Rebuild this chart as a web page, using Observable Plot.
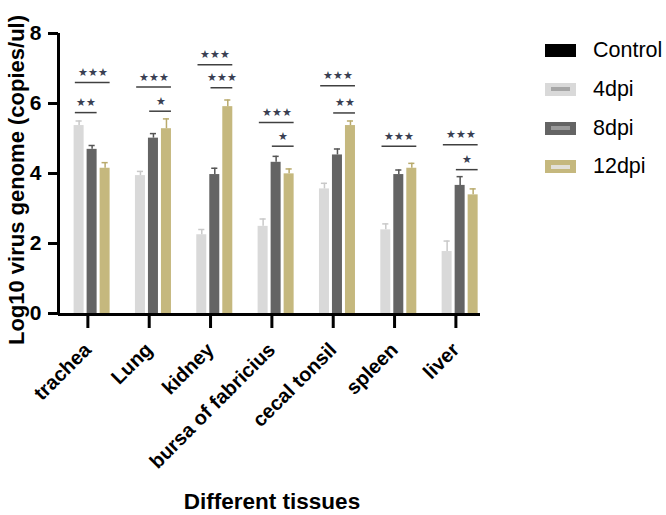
<!DOCTYPE html>
<html><head><meta charset="utf-8">
<script src="https://cdn.jsdelivr.net/npm/d3@7"></script>
<script src="https://cdn.jsdelivr.net/npm/@observablehq/plot@0.6"></script>
<style>
body{margin:0;background:#fff;font-family:"Liberation Sans",Arial,sans-serif;}
#wrap{position:relative;width:666px;height:515px;overflow:hidden;}
#chart{position:absolute;left:0;top:0;}
#ytitle{position:absolute;left:17px;top:180px;transform:translate(-50%,-50%) rotate(-90deg);white-space:nowrap;font-weight:bold;font-size:22px;color:#000;}
#xtitle{position:absolute;left:272px;top:491px;transform:translateX(-50%);white-space:nowrap;font-weight:bold;font-size:22.5px;line-height:22px;color:#000;}
#legend{position:absolute;left:545px;top:0;}
.row{position:absolute;left:0;height:14px;width:120px;}
.sw{position:absolute;left:0;top:0;width:31px;height:13px;}
.in{position:absolute;left:6px;top:4.5px;width:19px;height:4px;}
.lab{position:absolute;left:48px;top:-6px;font-size:21.5px;line-height:24px;color:#000;white-space:nowrap;}
</style></head>
<body>
<div id="wrap">
<div id="chart"></div>
<div id="ytitle">Log10 virus genome (copies/ul)</div>
<div id="xtitle">Different tissues</div>
<div id="legend"></div>
</div>
<script>
const tissues = ["trachea","Lung","kidney","bursa of fabricius","cecal tonsil","spleen","liver"];
const series = ["Control","4dpi","8dpi","12dpi"];
const control = [0,0,0,0,0,0,0];
const controlErr = [0,0,0,0,0,0,0];
const dpi4 = [5.37,3.94,2.25,2.49,3.56,2.39,1.77];
const dpi4Err = [0.13,0.12,0.15,0.21,0.16,0.17,0.30];
const dpi8 = [4.69,5.01,3.97,4.32,4.53,3.97,3.66];
const dpi8Err = [0.11,0.13,0.18,0.17,0.17,0.13,0.25];
const dpi12 = [4.15,5.28,5.91,3.99,5.37,4.15,3.39];
const dpi12Err = [0.16,0.28,0.19,0.14,0.13,0.14,0.17];
const yTicks = [0,2,4,6,8];

// significance brackets
const sigTissue = ["trachea","trachea","Lung","Lung","kidney","kidney","bursa of fabricius","bursa of fabricius","cecal tonsil","cecal tonsil","spleen","liver","liver"];
const sigFrom =   ["4dpi","4dpi","4dpi","8dpi","4dpi","8dpi","4dpi","8dpi","4dpi","8dpi","4dpi","4dpi","8dpi"];
const sigTo =     ["12dpi","8dpi","12dpi","12dpi","12dpi","12dpi","12dpi","12dpi","12dpi","12dpi","12dpi","12dpi","12dpi"];
const sigY =      [6.6,5.74,6.47,5.78,7.11,6.45,5.46,4.78,6.51,5.73,4.78,4.82,4.11];
const sigLabel =  ["***","**","***","*","***","***","***","*","***","**","***","***","*"];

const colors = ["#000000","#d9d9d9","#646464","#c5b87e"];
const capColors = ["#000000","#c9c9c9","#555555","#b9aa6c"];
const innerColors = ["#000000","#a6a6a6","#9a9a9a","#e2e0d8"];

const values = [control, dpi4, dpi8, dpi12];
const errs = [controlErr, dpi4Err, dpi8Err, dpi12Err];

// layout within a group (in x data units: one unit = one tissue)
const step = 0.212, half = 0.0816;
const off = s => (series.indexOf(s) - 1.5) * step + 0.012;
const xMin = -0.43, xMax = 6.45;

const bars = [];
series.forEach((s, j) => tissues.forEach((t, i) => {
  bars.push({tissue: t, i, series: s, value: values[j][i], err: errs[j][i], cap: capColors[j]});
}));
const shown = bars.filter(d => d.value > 0);
const sigs = sigTissue.map((t, k) => ({i: tissues.indexOf(t), from: sigFrom[k], to: sigTo[k], y: sigY[k], label: sigLabel[k]}));

const starText = l => l.replace(/\*/g, "\u2605");

const chart = Plot.plot({
  width: 666, height: 515,
  marginLeft: 58, marginRight: 186, marginTop: 33, marginBottom: 202,
  style: {fontFamily: "'Liberation Sans', Arial, sans-serif", background: "#fff", color: "#000"},
  x: {domain: [xMin, xMax], axis: null},
  y: {domain: [0, 8], axis: null},
  color: {domain: series, range: colors},
  marks: [
    Plot.rectY(shown, {x1: d => d.i + off(d.series) - half, x2: d => d.i + off(d.series) + half, y1: 0, y2: "value", fill: "series"}),
    Plot.ruleX(shown, {x: d => d.i + off(d.series), y1: "value", y2: d => d.value + d.err, stroke: d => d.cap, strokeWidth: 1.5}),
    Plot.ruleY(shown, {x1: d => d.i + off(d.series) - 0.05, x2: d => d.i + off(d.series) + 0.05, y: d => d.value + d.err, stroke: d => d.cap, strokeWidth: 1.5}),
    Plot.ruleY(sigs, {x1: d => d.i + off(d.from) - half + 0.02, x2: d => d.i + off(d.to) + half, y: "y", stroke: "#404040", strokeWidth: 1.5}),
    Plot.text(sigs, {x: d => d.i + (off(d.from) - half + 0.02 + off(d.to) + half) / 2, y: "y", text: d => starText(d.label), dy: -10, fontSize: 11, fill: "#3a3f52", style: "letter-spacing:1.5px"}),
    Plot.ruleX([xMin], {y1: -0.04, y2: 8, stroke: "#000", strokeWidth: 3}),
    Plot.ruleY([0], {x1: xMin, x2: xMax, stroke: "#000", strokeWidth: 3, dy: 1}),
    Plot.axisY({ticks: yTicks, tickSize: 10, tickPadding: 7, strokeWidth: 3, fontSize: 21, fontWeight: "bold", tickFormat: d => String(d), label: null}),
    Plot.axisX({ticks: d3.range(tissues.length), tickFormat: i => tissues[i], tickSize: 15, tickPadding: 18, dx: 3, tickRotate: -45, strokeWidth: 3, fontSize: 20, fontWeight: "bold", label: null})
  ]
});
document.getElementById("chart").appendChild(chart);

// legend
const legend = document.getElementById("legend");
series.forEach((s, j) => {
  const row = document.createElement("div");
  row.className = "row";
  row.style.top = (44 + j * 38.8) + "px";
  const sw = document.createElement("div");
  sw.className = "sw";
  sw.style.background = colors[j];
  if (j > 0) {
    const inner = document.createElement("div");
    inner.className = "in";
    inner.style.background = innerColors[j];
    sw.appendChild(inner);
  }
  const lab = document.createElement("div");
  lab.className = "lab";
  lab.textContent = s;
  row.appendChild(sw);
  row.appendChild(lab);
  legend.appendChild(row);
});
</script>
</body></html>
